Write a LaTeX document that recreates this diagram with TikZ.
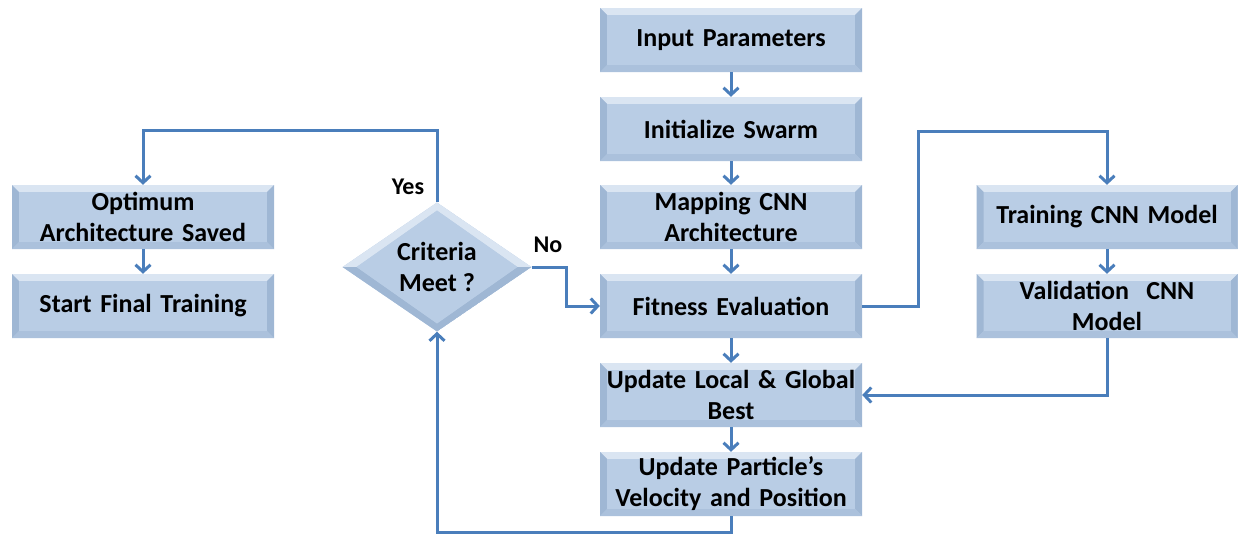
\documentclass[tikz,border=0pt]{standalone}
\usepackage{fontspec}
\setmainfont{Carlito}
\usetikzlibrary{arrows.meta,shapes.geometric,calc}
\definecolor{boxblue}{HTML}{B9CDE5}
\definecolor{bevtop}{HTML}{DAE5F2}
\definecolor{bevside}{HTML}{9FB7D4}
\definecolor{bevbot}{HTML}{ABC1DC}
\definecolor{linkblue}{HTML}{4A7EBB}
\tikzset{
  lbl/.style={font=\bfseries\fontsize{24}{29}\selectfont, inner sep=0pt},
  stepbox/.style={fill=boxblue, minimum width=262pt, minimum height=64pt, inner sep=0pt,
    align=center, text width=258pt, font=\bfseries\fontsize{26}{31}\selectfont,
    path picture={
      \fill[bevtop] (path picture bounding box.north west) -- (path picture bounding box.north east)
        -- ([shift={(-7pt,-7pt)}]path picture bounding box.north east)
        -- ([shift={(7pt,-7pt)}]path picture bounding box.north west) -- cycle;
      \fill[bevside] (path picture bounding box.north west) -- ([shift={(7pt,-7pt)}]path picture bounding box.north west)
        -- ([shift={(7pt,7pt)}]path picture bounding box.south west) -- (path picture bounding box.south west) -- cycle;
      \fill[bevside] (path picture bounding box.north east) -- ([shift={(-7pt,-7pt)}]path picture bounding box.north east)
        -- ([shift={(-7pt,7pt)}]path picture bounding box.south east) -- (path picture bounding box.south east) -- cycle;
      \fill[bevbot] (path picture bounding box.south west) -- ([shift={(7pt,7pt)}]path picture bounding box.south west)
        -- ([shift={(-7pt,7pt)}]path picture bounding box.south east) -- (path picture bounding box.south east) -- cycle;
      \fill[boxblue] ([shift={(7pt,-7pt)}]path picture bounding box.north west) rectangle ([shift={(-7pt,7pt)}]path picture bounding box.south east);
    }},
  decision/.style={shape=diamond, fill=boxblue, minimum width=189pt, minimum height=112pt, inner sep=0pt,
    align=center, font=\bfseries\fontsize{26}{31}\selectfont,
    path picture={
      \fill[bevtop] (path picture bounding box.west) -- (path picture bounding box.north) -- (path picture bounding box.east)
        -- ([xshift=-14pt]path picture bounding box.east) -- ([yshift=-8pt]path picture bounding box.north)
        -- ([xshift=14pt]path picture bounding box.west) -- cycle;
      \fill[bevside] (path picture bounding box.west) -- (path picture bounding box.south) -- (path picture bounding box.east)
        -- ([xshift=-14pt]path picture bounding box.east) -- ([yshift=8pt]path picture bounding box.south)
        -- ([xshift=14pt]path picture bounding box.west) -- cycle;
      \fill[boxblue] ([xshift=14pt]path picture bounding box.west) -- ([yshift=-8pt]path picture bounding box.north)
        -- ([xshift=-14pt]path picture bounding box.east) -- ([yshift=8pt]path picture bounding box.south) -- cycle;
    }},
  link/.style={draw=linkblue, line width=3pt, -{Straight Barb[length=7pt,width=15pt]}},
}
\begin{document}
\begin{tikzpicture}[x=1pt,y=-1pt]
\useasboundingbox (0,0) rectangle (1238,536);
\node[stepbox] (inp) at (731,40) {Input Parameters};
\node[stepbox] (init) at (731,129) {Initialize Swarm};
\node[stepbox] (map) at (731,217) {Mapping CNN\\Architecture};
\node[stepbox] (fit) at (731,306) {Fitness Evaluation};
\node[stepbox] (upd) at (731,395) {Update Local \& Global\\Best};
\node[stepbox] (part) at (731,484) {Update Particle’s\\Velocity and Position};
\node[stepbox] (opt) at (143,217) {Optimum\\Architecture Saved};
\node[stepbox] (start) at (143,306) {Start Final Training};
\node[stepbox, minimum width=261pt] (train) at (1107,217) {Training CNN Model};
\node[stepbox, minimum width=261pt] (val) at (1107,306) {Validation~~CNN\\Model};
\node[decision] (crit) at (437,267) {Criteria\\Meet ?};
\node[lbl] (yes) at (408,187) {Yes};
\node[lbl] (no) at (548,245) {No};
\coordinate (yesc) at (437,130);
\coordinate (noc) at (566,305);
\coordinate (trc) at (918,131);
\coordinate (botc) at (438,532);
\draw[link] (inp) -- (init);
\draw[link] (init) -- (map);
\draw[link] (map) -- (fit);
\draw[link] (fit) -- (upd);
\draw[link] (upd) -- (part);
\draw[link] (opt) -- (start);
\draw[link] (train) -- (val);
\draw[link] (crit.north) -- (crit.north |- yesc) -| (opt.north);
\draw[link] (crit.east) -- (crit.east -| noc) |- (fit.west);
\draw[link] (fit.east) -| (trc) -| (train.north);
\draw[link] (val.south) |- (upd.east);
\draw[link] (part.south) -- (part.south |- botc) -| (crit.south);
\end{tikzpicture}
\end{document}
